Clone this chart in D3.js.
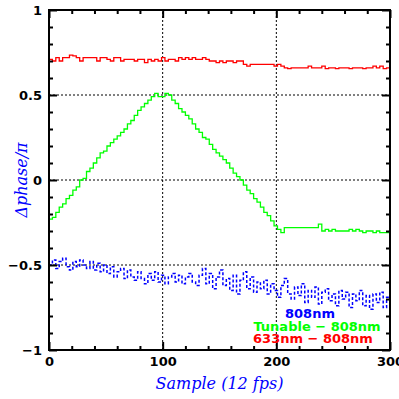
<!DOCTYPE html>
<html>
<head>
<meta charset="utf-8">
<script src="https://cdn.jsdelivr.net/npm/d3@7"></script>
<style>
  body { margin: 0; background: #fff; }
  .tick text { font-family: "DejaVu Sans", sans-serif; font-weight: bold; font-size: 13px; }
</style>
</head>
<body>
<script>
var W = 399, H = 399;
var margin = { left: 49, right: 9, top: 10, bottom: 49 };

// samples are every 3rd frame, 0..300
var step = 3;

var red = [
  0.71, 0.70, 0.72, 0.70, 0.72, 0.72, 0.735, 0.73, 0.72, 0.70,
  0.72, 0.72, 0.72, 0.72, 0.70, 0.72, 0.72, 0.71, 0.70, 0.72,
  0.72, 0.70, 0.71, 0.71, 0.71, 0.70, 0.71, 0.71, 0.69, 0.71,
  0.70, 0.71, 0.70, 0.72, 0.70, 0.71, 0.71, 0.70, 0.72, 0.71,
  0.72, 0.71, 0.72, 0.71, 0.71, 0.72, 0.71, 0.70, 0.70, 0.69,
  0.70, 0.69, 0.70, 0.70, 0.69, 0.70, 0.70, 0.68, 0.67, 0.68,
  0.68, 0.68, 0.68, 0.68, 0.68, 0.68, 0.67, 0.68, 0.67, 0.66,
  0.655, 0.66, 0.66, 0.66, 0.66, 0.66, 0.67, 0.66, 0.66, 0.66,
  0.67, 0.655, 0.66, 0.66, 0.655, 0.66, 0.66, 0.66, 0.655, 0.66,
  0.66, 0.66, 0.655, 0.66, 0.66, 0.67, 0.66, 0.67, 0.655, 0.66,
  0.66
];

var green = [
  -0.23, -0.22, -0.19, -0.16, -0.14, -0.11, -0.09, -0.06, -0.04, 0.00,
  0.01, 0.05, 0.07, 0.10, 0.13, 0.16, 0.17, 0.20, 0.22, 0.24,
  0.26, 0.28, 0.30, 0.33, 0.35, 0.38, 0.41, 0.43, 0.45, 0.47,
  0.49, 0.51, 0.49, 0.49, 0.51, 0.50, 0.47, 0.45, 0.42, 0.40,
  0.38, 0.36, 0.33, 0.30, 0.28, 0.25, 0.24, 0.21, 0.18, 0.16,
  0.14, 0.12, 0.10, 0.07, 0.04, 0.02, 0.00, -0.03, -0.06, -0.08,
  -0.11, -0.13, -0.16, -0.19, -0.21, -0.24, -0.27, -0.29, -0.31, -0.28,
  -0.28, -0.28, -0.28, -0.28, -0.28, -0.28, -0.28, -0.28, -0.28, -0.26,
  -0.30, -0.29, -0.30, -0.29, -0.30, -0.30, -0.30, -0.30, -0.29, -0.30,
  -0.29, -0.30, -0.31, -0.30, -0.30, -0.31, -0.30, -0.31, -0.31, -0.31,
  -0.31
];

var blue = [
  -0.50, -0.47, -0.52, -0.48, -0.46, -0.51, -0.53, -0.48, -0.51, -0.47,
  -0.50, -0.52, -0.48, -0.53, -0.49, -0.54, -0.50, -0.55, -0.51, -0.57,
  -0.54, -0.52, -0.58, -0.53, -0.57, -0.59, -0.54, -0.58, -0.61, -0.55,
  -0.59, -0.54, -0.60, -0.56, -0.61, -0.57, -0.55, -0.60, -0.56, -0.61,
  -0.57, -0.55, -0.60, -0.62, -0.56, -0.52, -0.61, -0.55, -0.64, -0.57,
  -0.53, -0.62, -0.58, -0.65, -0.56, -0.67, -0.59, -0.54, -0.64, -0.57,
  -0.66, -0.60, -0.64, -0.59, -0.67, -0.61, -0.65, -0.69, -0.62, -0.58,
  -0.67, -0.70, -0.63, -0.68, -0.61, -0.72, -0.65, -0.69, -0.63, -0.73,
  -0.66, -0.64, -0.71, -0.67, -0.74, -0.65, -0.70, -0.66, -0.75, -0.67,
  -0.71, -0.65, -0.74, -0.68, -0.76, -0.67, -0.72, -0.66, -0.75, -0.69,
  -0.74
];

var xMajor = [0, 100, 200, 300];
var xMinor = [20, 40, 60, 80, 120, 140, 160, 180, 220, 240, 260, 280];
var yMajor = [-1, -0.5, 0, 0.5, 1];
var yMinor = [-0.9, -0.8, -0.7, -0.6, -0.4, -0.3, -0.2, -0.1, 0.1, 0.2, 0.3, 0.4, 0.6, 0.7, 0.8, 0.9];
var gridX = [100, 200];
var gridY = [-0.5, 0, 0.5];

var svg = d3.select(document.body).append("svg")
  .attr("width", W).attr("height", H);
svg.append("rect").attr("width", W).attr("height", H).attr("fill", "#fff");

var x = d3.scaleLinear().domain([0, 300]).range([margin.left, W - margin.right]);
var y = d3.scaleLinear().domain([-1, 1]).range([H - margin.bottom, margin.top]);

// grid
svg.selectAll(".gx").data(gridX).enter().append("line")
  .attr("x1", d => x(d)).attr("x2", d => x(d))
  .attr("y1", y(-1)).attr("y2", y(1))
  .attr("stroke", "#000").attr("stroke-width", 1).attr("stroke-dasharray", "2,2");
svg.selectAll(".gy").data(gridY).enter().append("line")
  .attr("x1", x(0)).attr("x2", x(300))
  .attr("y1", d => y(d)).attr("y2", d => y(d))
  .attr("stroke", "#000").attr("stroke-width", 1).attr("stroke-dasharray", "2,2");

// series
function line(vals) {
  return d3.line()
    .x((d, i) => x(i * step))
    .y(d => y(d))
    .curve(d3.curveStepAfter)(vals);
}
svg.append("path").attr("d", line(blue)).attr("fill", "none")
  .attr("stroke", "#0000ff").attr("stroke-width", 1.5).attr("stroke-dasharray", "3,2");
svg.append("path").attr("d", line(green)).attr("fill", "none")
  .attr("stroke", "#00ff00").attr("stroke-width", 1.3);
svg.append("path").attr("d", line(red)).attr("fill", "none")
  .attr("stroke", "#ff0000").attr("stroke-width", 1.3);

// axes: ticks inward on all four sides
function styleAxis(g) {
  g.select(".domain").remove();
  g.selectAll(".tick line").attr("stroke-width", 2);
}
var fmt = d3.format("");
svg.append("g").attr("transform", "translate(0," + y(-1) + ")")
  .call(d3.axisBottom(x).tickValues(xMajor).tickSizeInner(-8).tickSizeOuter(0).tickPadding(7).tickFormat(fmt))
  .call(styleAxis);
svg.append("g").attr("transform", "translate(0," + y(-1) + ")")
  .call(d3.axisBottom(x).tickValues(xMinor).tickSizeInner(-4).tickSizeOuter(0).tickFormat(""))
  .call(styleAxis);
svg.append("g").attr("transform", "translate(0," + y(1) + ")")
  .call(d3.axisTop(x).tickValues(xMajor).tickSizeInner(-8).tickSizeOuter(0).tickFormat(""))
  .call(styleAxis);
svg.append("g").attr("transform", "translate(0," + y(1) + ")")
  .call(d3.axisTop(x).tickValues(xMinor).tickSizeInner(-4).tickSizeOuter(0).tickFormat(""))
  .call(styleAxis);
svg.append("g").attr("transform", "translate(" + x(0) + ",0)")
  .call(d3.axisLeft(y).tickValues(yMajor).tickSizeInner(-8).tickSizeOuter(0).tickPadding(7).tickFormat(fmt))
  .call(styleAxis);
svg.append("g").attr("transform", "translate(" + x(0) + ",0)")
  .call(d3.axisLeft(y).tickValues(yMinor).tickSizeInner(-4).tickSizeOuter(0).tickFormat(""))
  .call(styleAxis);
svg.append("g").attr("transform", "translate(" + x(300) + ",0)")
  .call(d3.axisRight(y).tickValues(yMajor).tickSizeInner(-8).tickSizeOuter(0).tickFormat(""))
  .call(styleAxis);
svg.append("g").attr("transform", "translate(" + x(300) + ",0)")
  .call(d3.axisRight(y).tickValues(yMinor).tickSizeInner(-4).tickSizeOuter(0).tickFormat(""))
  .call(styleAxis);
svg.selectAll(".tick text").attr("fill", "#000");

// frame
svg.append("rect")
  .attr("x", x(0)).attr("y", y(1))
  .attr("width", x(300) - x(0)).attr("height", y(-1) - y(1))
  .attr("fill", "none").attr("stroke", "#000").attr("stroke-width", 2);

// axis titles
svg.append("text")
  .attr("x", (x(0) + x(300)) / 2).attr("y", 389)
  .attr("text-anchor", "middle")
  .attr("font-family", "DejaVu Serif, serif").attr("font-style", "italic")
  .attr("font-size", 16).attr("fill", "#0000ff")
  .text("Sample (12 fps)");
svg.append("text")
  .attr("transform", "translate(27," + y(0) + ") rotate(-90)")
  .attr("text-anchor", "middle")
  .attr("font-family", "DejaVu Serif, serif").attr("font-style", "italic")
  .attr("font-size", 16).attr("fill", "#0000ff")
  .text("\u0394phase/\u03c0");

// legend labels
var legend = [
  { t: "808nm", c: "#0000ff", x: 310, y: 318 },
  { t: "Tunable \u2212 808nm", c: "#00ff00", x: 317, y: 331 },
  { t: "633nm \u2212 808nm", c: "#ff0000", x: 313, y: 343 }
];
svg.selectAll(".leg").data(legend).enter().append("text")
  .attr("x", d => d.x).attr("y", d => d.y)
  .attr("text-anchor", "middle")
  .attr("font-family", "DejaVu Sans, sans-serif").attr("font-weight", "bold")
  .attr("font-size", 13).attr("fill", d => d.c)
  .text(d => d.t);
</script>
</body>
</html>
